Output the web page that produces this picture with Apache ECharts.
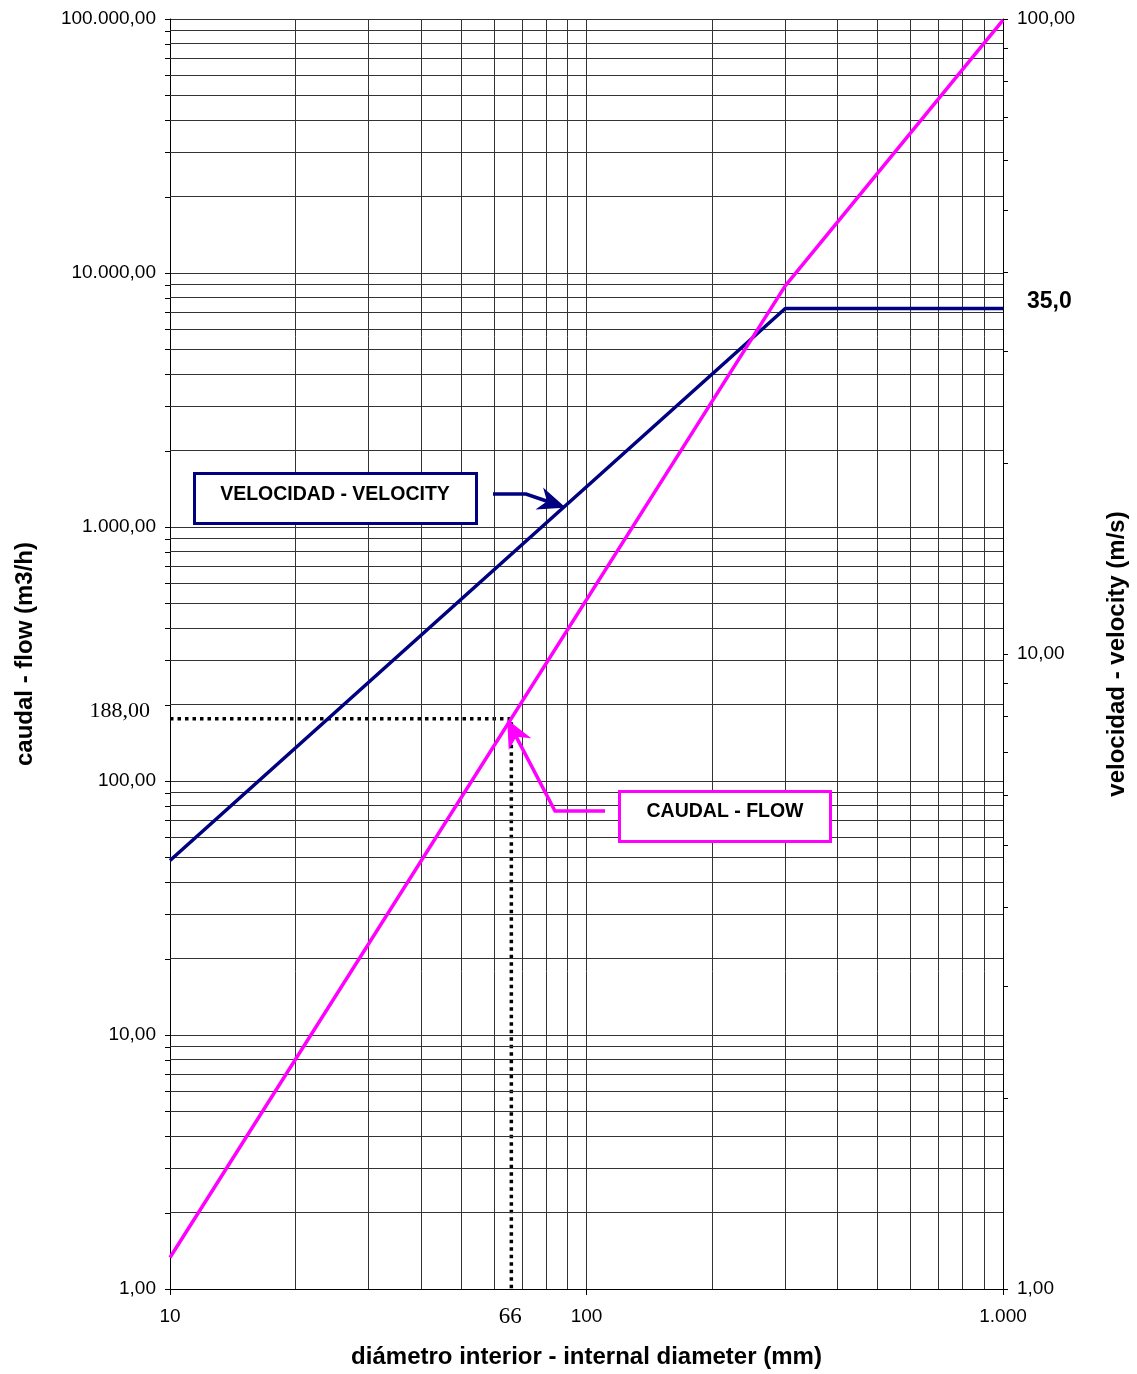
<!DOCTYPE html>
<html lang="es">
<head>
<meta charset="UTF-8">
<title>Caudal - velocidad</title>
<style>
  html, body { margin: 0; padding: 0; background: #fff; }
  #chart { width: 1137px; height: 1374px; }
</style>
</head>
<body>
<div id="chart"></div>
<script src="https://cdn.jsdelivr.net/npm/echarts@6/dist/echarts.min.js"></script>
<script>
// diameter (mm), log axis
const diameterLabels = [10, 100, 1000];
const diameterGrid = [20, 30, 40, 50, 60, 70, 80, 90, 200, 300, 400, 500, 600, 700, 800, 900];

// flow (m3/h), left log axis: minor lines 2..9 per decade
const flowDecades = [1, 10, 100, 1000, 10000];
const minorSteps = [2, 3, 4, 5, 6, 7, 8, 9];

// velocity (m/s), right log axis
const velocityMinor = [2, 3, 4, 5, 6, 7, 8, 9, 20, 30, 40, 50, 60, 70, 80, 90];

// series
const velDiam = [10, 300, 1000];
const velValues = [4.73, 35, 35];
const flowDiam = [10, 300, 1000];
const flowValues = [1.33, 8900, 99000];

// example reading: 66 mm -> 188 m3/h
const guideDiam = [10, 66, 66];
const guideFlow = [176, 176, 1];
const markDiam = 66;
const markFlow = 188;
const velLimit = 35;

const flowGrid = [];
flowDecades.forEach(d => minorSteps.forEach(s => flowGrid.push(d * s)));

const fmtNum = (v, dec) => {
  const parts = Number(v).toFixed(dec).split('.');
  parts[0] = parts[0].replace(/\B(?=(\d{3})+(?!\d))/g, '.');
  return parts.join(',');
};

const zip = (xs, ys) => xs.map((x, i) => [x, ys[i]]);

const GRID = '#333';
const NAVY = '#000080';
const MAGENTA = '#ff00ff';
const labelFont = { fontFamily: 'Liberation Sans', fontSize: 19, color: '#000' };
const nameFont = { fontFamily: 'Liberation Sans', fontSize: 24, fontWeight: 'bold', color: '#000' };

const chart = echarts.init(document.getElementById('chart'));

chart.setOption({
  animation: false,
  backgroundColor: '#fff',
  grid: { left: 170, right: 134, top: 19, bottom: 84 },
  xAxis: {
    type: 'log', min: 10, max: 1000, logBase: 10,
    name: 'diámetro interior - internal diameter (mm)',
    nameLocation: 'middle', nameGap: 56, nameTextStyle: nameFont,
    axisLine: { lineStyle: { color: '#000', width: 1 } },
    axisTick: { length: 6, lineStyle: { color: '#000' } },
    axisLabel: { ...labelFont, margin: 18, formatter: v => fmtNum(Math.round(v), 0) },
    splitLine: { show: true, lineStyle: { color: GRID, width: 1 } }
  },
  yAxis: [{
    type: 'log', min: 1, max: 100000, logBase: 10,
    name: 'caudal - flow (m3/h)',
    nameLocation: 'middle', nameRotate: 90, nameGap: 133, nameTextStyle: nameFont,
    axisLine: { lineStyle: { color: '#000', width: 1 } },
    axisTick: { length: 5, lineStyle: { color: '#000' } },
    axisLabel: { ...labelFont, margin: 14, formatter: v => fmtNum(v, 2) },
    splitLine: { show: true, lineStyle: { color: GRID, width: 1 } }
  }, {
    type: 'log', min: 1, max: 100, logBase: 10, position: 'right',
    name: 'velocidad - velocity (m/s)',
    nameLocation: 'middle', nameRotate: 90, nameGap: 102, nameTextStyle: nameFont,
    axisLine: { show: true, lineStyle: { color: '#000', width: 1 } },
    axisTick: { length: 5, lineStyle: { color: '#000' } },
    axisLabel: { ...labelFont, margin: 14, formatter: v => fmtNum(v, 2) },
    splitLine: { show: false }
  }],
  series: [{
    // minor grid lines
    type: 'line', data: [], silent: true, z: 1,
    markLine: {
      silent: true, animation: false, symbol: ['none', 'none'],
      label: { show: false }, emphasis: { disabled: true },
      lineStyle: { color: GRID, width: 1, type: 'solid' },
      data: diameterGrid.map(d => [{ coord: [d, 1] }, { coord: [d, 100000] }])
        .concat(flowGrid.map(q => [{ coord: [10, q] }, { coord: [1000, q] }]))
    }
  }, {
    name: 'velocidad', type: 'line', yAxisIndex: 1, z: 5,
    data: zip(velDiam, velValues), showSymbol: false, symbol: 'none',
    lineStyle: { color: NAVY, width: 3.5 }
  }, {
    name: 'caudal', type: 'line', z: 5,
    data: zip(flowDiam, flowValues), showSymbol: false, symbol: 'none',
    lineStyle: { color: MAGENTA, width: 3.5 }
  }, {
    name: 'guia', type: 'line', z: 4,
    data: zip(guideDiam, guideFlow), showSymbol: false, symbol: 'none',
    lineStyle: { color: '#000', width: 3.5, type: [3.5, 4], cap: 'butt' }
  }]
});

const px = (axis, v) => chart.convertToPixel(axis, v);
const x0 = px({ xAxisIndex: 0 }, 10);
const x1 = px({ xAxisIndex: 0 }, 1000);
const yBottom = px({ yAxisIndex: 0 }, 1);

// minor tick marks outside the axes, placed through the axis scales
const extras = [];
flowGrid.forEach(q => {
  const y = Math.round(px({ yAxisIndex: 0 }, q)) + 0.5;
  extras.push({ type: 'line', silent: true, z: 3,
    shape: { x1: x0 - 5, y1: y, x2: x0, y2: y }, style: { stroke: '#000', lineWidth: 1 } });
});
velocityMinor.forEach(v => {
  const y = Math.round(px({ yAxisIndex: 1 }, v)) + 0.5;
  extras.push({ type: 'line', silent: true, z: 3,
    shape: { x1: x1, y1: y, x2: x1 + 5, y2: y }, style: { stroke: '#000', lineWidth: 1 } });
});

// value labels for the example reading and velocity limit
extras.push(
  { type: 'text', silent: true, z: 12,
    style: { text: fmtNum(markFlow, 2), x: x0 - 20, y: px({ yAxisIndex: 0 }, markFlow),
      align: 'right', verticalAlign: 'middle', font: '22px "Liberation Serif"', fill: '#000' } },
  { type: 'text', silent: true, z: 12,
    style: { text: String(markDiam), x: px({ xAxisIndex: 0 }, markDiam) - 1, y: yBottom + 28,
      align: 'center', verticalAlign: 'middle', font: '23px "Liberation Serif"', fill: '#000' } },
  { type: 'text', silent: true, z: 12,
    style: { text: fmtNum(velLimit, 1), x: x1 + 24, y: px({ yAxisIndex: 1 }, velLimit) - 7,
      align: 'left', verticalAlign: 'middle', font: 'bold 23px "Liberation Sans"', fill: '#000' } }
);

// callout arrow: polyline plus notched head
function arrow(points, color, hw) {
  const [ax, ay] = points[points.length - 2];
  const [tx, ty] = points[points.length - 1];
  const len = Math.hypot(tx - ax, ty - ay);
  const ux = (tx - ax) / len, uy = (ty - ay) / len;
  const nx = -uy, ny = ux;
  const hl = 24;
  const bx = tx - hl * ux, by = ty - hl * uy;
  const notch = [tx - 17 * ux, ty - 17 * uy];
  const line = points.slice(0, -1).concat([notch]);
  return [
    { type: 'polyline', silent: true, z: 10, shape: { points: line },
      style: { stroke: color, lineWidth: 3.5, fill: null, lineJoin: 'miter' } },
    { type: 'polygon', silent: true, z: 10,
      shape: { points: [[tx, ty], [bx + hw * nx, by + hw * ny], notch, [bx - hw * nx, by - hw * ny]] },
      style: { fill: color, stroke: color, lineWidth: 1.5, lineJoin: 'miter' } }
  ];
}

const boxFont = 'bold 19.5px "Liberation Sans"';
const notes = [
  { type: 'rect', silent: true, z: 10, shape: { x: 194.5, y: 473.5, width: 282, height: 50 },
    style: { fill: '#fff', stroke: NAVY, lineWidth: 3 } },
  { type: 'text', silent: true, z: 11,
    style: { text: 'VELOCIDAD - VELOCITY', x: 335, y: 495, align: 'center', verticalAlign: 'middle',
      font: boxFont, fill: '#000' } },
  { type: 'rect', silent: true, z: 10, shape: { x: 619.5, y: 791.5, width: 211, height: 50 },
    style: { fill: '#fff', stroke: MAGENTA, lineWidth: 3 } },
  { type: 'text', silent: true, z: 11,
    style: { text: 'CAUDAL - FLOW', x: 725, y: 812, align: 'center', verticalAlign: 'middle',
      font: boxFont, fill: '#000' } }
].concat(
  arrow([[493, 494], [526, 494], [564, 507]], NAVY, 10),
  arrow([[605, 811], [555, 811], [508, 721]], MAGENTA, 11)
);

chart.setOption({ graphic: extras.concat(notes) });
</script>
</body>
</html>
